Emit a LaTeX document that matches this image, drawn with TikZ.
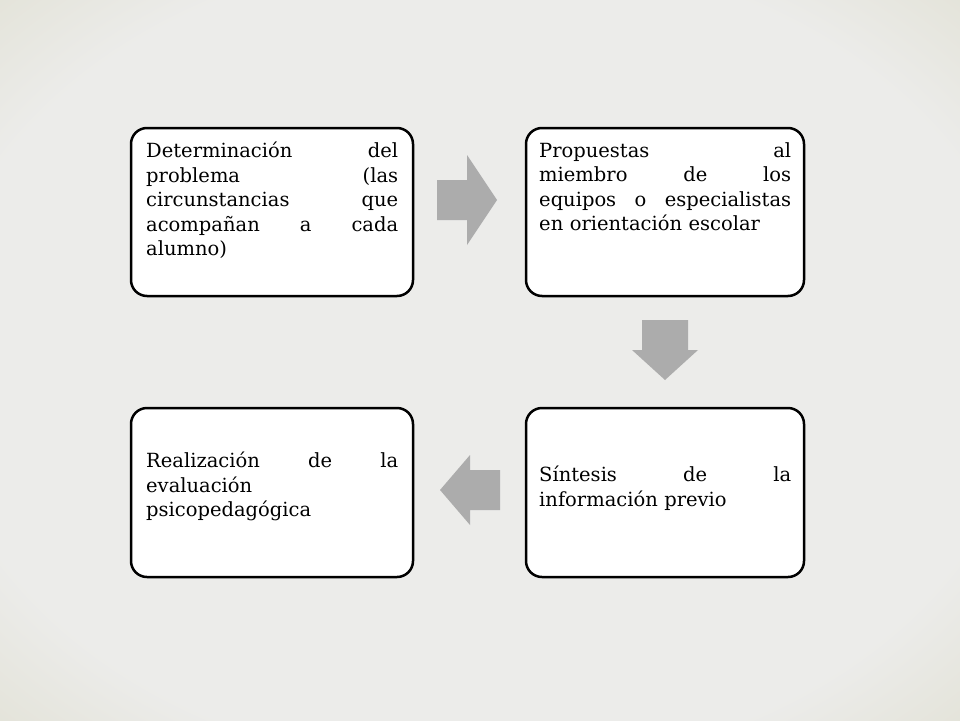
\documentclass[tikz,border=0pt]{standalone}
\usepackage{fontspec}
\setmainfont{DejaVu Serif}
\definecolor{beige}{RGB}{212,211,186}
\definecolor{midgray}{RGB}{236,236,234}
\begin{document}
\begin{tikzpicture}[x=1pt,y=-1pt,
  box/.style={draw=black,line width=2.5pt,rounded corners=16pt,fill=white},
  txt/.style={anchor=north west,inner sep=0pt,text width=252pt,align=left,font=\fontsize{19.5}{24.5}\selectfont},
  arr/.style={fill=gray!65,draw=none}]
\pgfdeclareradialshading{bgsh}{\pgfpoint{0cm}{0cm}}{color(0cm)=(midgray);color(1cm)=(midgray);color(1.45cm)=(beige!60!midgray);color(1.9cm)=(beige)}
\useasboundingbox (0,0) rectangle (960,720);
\fill[beige] (0,0) rectangle (960,720);
\shade[shading=bgsh] (0,0) rectangle (960,720);
\draw[box] (131,128) rectangle (413,296);
\draw[box] (526,128) rectangle (804,296);
\draw[box] (131,408) rectangle (413,577);
\draw[box] (526,408) rectangle (804,577);
\node[txt] (t1) at (146,142) {Determinación\hfill del\\problema\hfill (las\\circunstancias\hfill que\\acompañan\hfill a\hfill cada\\alumno)};
\node[txt] (t2) at (539,142) {Propuestas\hfill al\\miembro\hfill de\hfill los\\equipos\hfill o\hfill especialistas\\en orientación escolar};
\node[txt] (t3) at (146,452) {Realización\hfill de\hfill la\\evaluación\\psicopedagógica};
\node[txt] (t4) at (539,466) {Síntesis\hfill de\hfill la\\información previo};
\fill[arr] (437,180) -- (467,180) -- (467,155) -- (497,200) -- (467,245) -- (467,220) -- (437,220) -- cycle;
\fill[arr] (642,320) -- (688,320) -- (688,350) -- (698,350) -- (665,380) -- (632,350) -- (642,350) -- cycle;
\fill[arr] (500,470) -- (470,470) -- (470,455) -- (440,490) -- (470,525) -- (470,510) -- (500,510) -- cycle;
\end{tikzpicture}
\end{document}
